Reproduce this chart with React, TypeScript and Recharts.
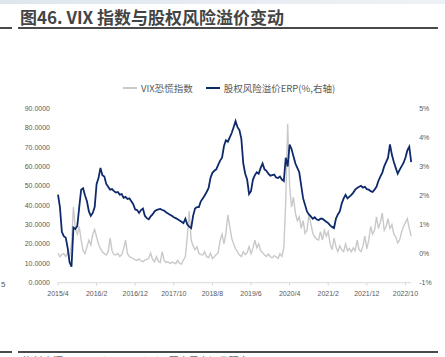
import { Line, LineChart, XAxis, YAxis } from 'recharts'

// half-month observations from 2015/4
const startYear = 2015
const startMonth = 4

const vix = [
  15.2, 13.4, 14.5, 15, 13.5, 15.5, 12.8, 20, 39, 28,
  25, 29, 22, 16.5, 15, 18.5, 22, 19.5, 25, 27.5,
  23.5, 20, 17.5, 16, 15, 14.3, 16, 23, 16.5, 14.5,
  14.3, 15.2, 13.5, 14.5, 17.5, 22, 15, 13.5, 13, 12.5,
  11.8, 11.5, 12.3, 11.2, 10.8, 11.7, 12, 12.6, 15.2, 12,
  10.8, 13.4, 11, 10.5, 16, 11.5, 10.5, 10.8, 10, 10.5,
  10.3, 9.8, 11.5, 10, 9.6, 11.7, 13.5, 24, 37, 22,
  19, 17, 18.6, 15.2, 14.5, 14.3, 16, 13.4, 13, 15.2,
  12.5, 13.4, 14.5, 15.5, 22, 25, 20, 25.5, 35, 29,
  23, 20, 17.5, 16, 14.3, 13.5, 16, 14.5, 15.5, 18.6,
  15, 17.7, 22, 18, 20, 16.5, 15.5, 14.3, 13.5, 14.8,
  13.4, 12.8, 14, 13.4, 12.5, 15, 13.5, 18, 42, 82,
  50, 39, 44, 35.8, 32, 34, 28, 32, 25.5, 27,
  35, 30.6, 25.5, 23.7, 22.5, 22, 26.3, 22, 27, 24,
  26.3, 20, 17, 23, 18.6, 16, 19, 17, 16, 20,
  16.5, 17.7, 16, 18, 16.5, 22, 17, 16, 19, 24,
  17.5, 22, 29, 25, 27, 34, 28, 31, 36, 27,
  29, 33, 28, 30, 25, 23.7, 20.5, 22, 26, 29,
  31, 33, 28, 24,
]

const erp = [
  2.03, 1.6, 0.75, 0.6, 0.55, 0.2, -0.3, -0.45, 0.9, 0.85,
  0.95, 1.6, 2.2, 2.25, 2.0, 1.8, 1.45, 1.3, 1.4, 1.6,
  2.4, 2.6, 2.95, 2.7, 2.65, 2.4, 2.3, 2.2, 2.22, 2.15,
  2.1, 2.12, 2.03, 2.05, 1.92, 1.95, 1.88, 1.9, 1.8, 1.7,
  1.52, 1.5, 1.4, 1.5, 1.55, 1.3, 1.22, 1.18, 1.28, 1.35,
  1.45, 1.5, 1.52, 1.54, 1.5, 1.48, 1.42, 1.38, 1.34, 1.3,
  1.25, 1.22, 1.18, 1.14, 1.1, 1.05, 1.2, 1.0, 0.93, 0.88,
  1.3, 1.55, 1.6, 1.6, 1.8, 1.9, 2.0, 2.12, 2.25, 2.6,
  2.78, 2.85, 2.9, 3.05, 3.2, 3.3, 3.7, 3.9, 3.85, 4.0,
  4.15, 4.35, 4.56, 4.35, 4.25, 3.95, 3.1, 2.75, 2.55, 2.05,
  2.15, 2.55, 2.7, 2.8, 2.75, 2.95, 3.1, 2.9, 2.85, 2.75,
  2.68, 2.7, 2.72, 2.62, 2.6, 2.65, 2.55, 2.5, 3.3, 3.0,
  3.75, 3.6, 3.35, 3.1, 2.95, 2.8, 2.35, 1.9, 1.68, 1.45,
  1.35, 1.28, 1.2, 1.25, 1.18, 1.15, 1.2, 1.2, 1.15, 1.1,
  1.05, 0.97, 0.92, 0.88, 1.2, 1.35, 1.45, 1.72, 1.9, 2.02,
  1.9, 1.96, 2.02, 2.1, 2.2, 2.26, 2.3, 2.33, 2.27, 2.3,
  2.22, 2.2, 2.15, 2.12, 2.2, 2.3, 2.5, 2.65, 2.78, 3.0,
  3.15, 3.3, 3.76, 3.4, 3.15, 2.95, 2.75, 2.88, 3.0, 3.12,
  3.3, 3.55, 3.68, 3.15,
]

const dates = vix.map((_, i) => {
  const m = startMonth - 1 + Math.floor(i / 2)
  return `${startYear + Math.floor(m / 12)}/${(m % 12) + 1}/${i % 2 ? 16 : 1}`
})

const leftTicks = [0, 10, 20, 30, 40, 50, 60, 70, 80, 90]
const rightTicks = [-1, 0, 1, 2, 3, 4, 5]

const data = dates.map((d, i) => ({ date: d, vix: vix[i], erp: erp[i] }))

const tickStyle = { fontSize: 7, fill: '#595959', fontFamily: 'Liberation Sans, Arial, sans-serif' }
const cjk = '"Noto Sans CJK SC", "Noto Sans", sans-serif'

function Rule({ top }: { top: number }) {
  return (
    <>
      <div style={{ position: 'absolute', left: 0, top, width: 12, height: 2, background: '#4a4a4a' }} />
      <div style={{ position: 'absolute', left: 18, top, width: 420, height: 2, background: '#4a4a4a' }} />
    </>
  )
}

export default function App() {
  return (
    <div
      style={{
        position: 'absolute',
        left: 0,
        top: 0,
        width: 445,
        height: 357,
        background: '#fff',
        overflow: 'hidden',
        fontFamily: cjk,
      }}
    >
      <div
        style={{
          position: 'absolute',
          left: 0,
          top: 0,
          width: 445,
          height: 4,
          background: 'linear-gradient(90deg, #dfe6ee, #eef2f6)',
        }}
      />
      <div
        style={{
          position: 'absolute',
          left: 20,
          top: 4,
          fontSize: 17,
          fontWeight: 600,
          color: '#444',
          whiteSpace: 'nowrap',
        }}
      >
        图46. VIX 指数与股权风险溢价变动
      </div>
      <Rule top={27} />

      <div style={{ position: 'absolute', left: 1, top: 280, fontSize: 8, color: '#555', fontFamily: 'Liberation Sans' }}>5</div>

      {/* legend */}
      <div
        style={{
          position: 'absolute',
          left: 123,
          top: 81,
          display: 'flex',
          alignItems: 'center',
          fontSize: 9.5,
          color: '#595959',
          whiteSpace: 'nowrap',
        }}
      >
        <span style={{ display: 'inline-block', width: 14, height: 1.5, background: '#c9c9c9', marginRight: 4 }} />
        <span>VIX恐慌指数</span>
        <span style={{ display: 'inline-block', width: 14, height: 2, background: '#0e2a6b', marginLeft: 13, marginRight: 4 }} />
        <span>股权风险溢价ERP(%,右轴)</span>
      </div>

      <div style={{ position: 'absolute', left: 0, top: 0 }}>
        <LineChart width={445} height={357} data={data} margin={{ top: 108.3, right: 3.8, bottom: 54.3, left: 8 }}>
          <XAxis
            dataKey="date"
            interval={19}
            height={20}
            tick={tickStyle}
            tickLine={{ stroke: '#d9d9d9' }}
            tickSize={3}
            tickMargin={5}
            axisLine={{ stroke: '#d9d9d9' }}
            tickFormatter={(d: string) => d.split('/').slice(0, 2).join('/')}
          />
          <YAxis
            yAxisId="left"
            domain={[0, 90]}
            ticks={leftTicks}
            width={50}
            tick={tickStyle}
            tickLine={false}
            axisLine={false}
            tickFormatter={(v: number) => v.toFixed(4)}
          />
          <YAxis
            yAxisId="right"
            orientation="right"
            domain={[-1, 5]}
            ticks={rightTicks}
            width={30}
            tick={tickStyle}
            tickLine={false}
            axisLine={false}
            tickFormatter={(v: number) => `${v}%`}
          />
          <Line
            yAxisId="left"
            dataKey="vix"
            stroke="#c9c9c9"
            strokeWidth={1.4}
            dot={false}
            isAnimationActive={false}
          />
          <Line
            yAxisId="right"
            dataKey="erp"
            stroke="#0e2a6b"
            strokeWidth={1.8}
            dot={false}
            isAnimationActive={false}
          />
        </LineChart>
      </div>

      <Rule top={351} />
      <div style={{ position: 'absolute', left: 23, top: 353, fontSize: 10, color: '#666', whiteSpace: 'nowrap' }}>
        资料来源：Bloomberg，Wind，国泰君安证券研究
      </div>
    </div>
  )
}
